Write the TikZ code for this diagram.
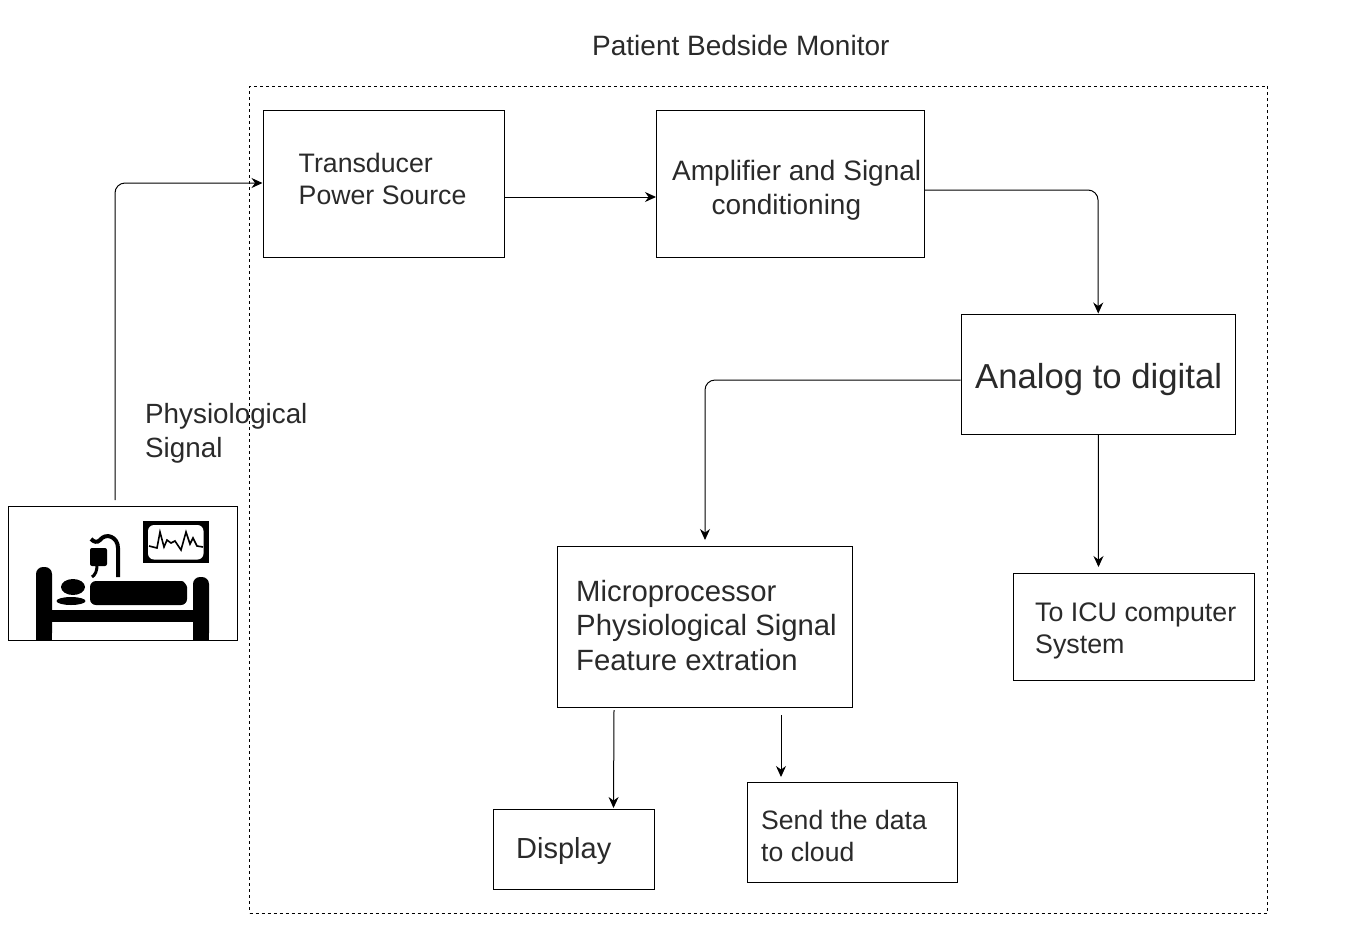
\documentclass[tikz,border=0pt]{standalone}
\usepackage{fontspec}
\setmainfont{Liberation Sans}
\usetikzlibrary{arrows.meta}
\definecolor{tx}{HTML}{2A2A2A}
\tikzset{x=1pt,y=-1pt,
 lab/.style={anchor=west,align=left,text=tx,inner sep=0pt},
 conn/.style={draw=black,line width=1pt,-{Stealth[length=11pt,width=10pt]},rounded corners=10pt}}
\newcommand{\rbox}[5]{\node[draw=black,line width=1pt,inner sep=0pt,anchor=north west,minimum width=#4*1pt-#2*1pt,minimum height=#5*1pt-#3*1pt] (#1) at (#2,#3) {};}
\begin{document}
\begin{tikzpicture}
\useasboundingbox (0,0) rectangle (1370,946);
\fill[white] (0,0) rectangle (1370,946);
\node[draw=black,dashed,line width=1pt,inner sep=0pt,anchor=north west,minimum width=1018pt,minimum height=827pt] (mon) at (249,85.5) {};
\rbox{ts}{262.5}{109.5}{503.8}{256.8}
\rbox{amp}{656}{109.5}{924}{256.8}
\rbox{adc}{960.5}{313.5}{1235}{433.5}
\rbox{mic}{557}{545.8}{852}{706.8}
\rbox{icu}{1012.5}{573}{1253.8}{680}
\rbox{dsp}{493}{808.5}{654}{888.5}
\rbox{cld}{746.5}{782}{957}{882}
\rbox{pat}{8}{505.8}{236.8}{639.8}
\node[lab,font=\fontsize{28}{33}\selectfont] (t0) at (592,45) {Patient Bedside Monitor};
\node[lab,font=\fontsize{26.7}{32}\selectfont] (t1) at (298.5,179) {Transducer\\Power Source};
\node[lab,font=\fontsize{28}{33.5}\selectfont] (t2) at (672,190.5) {Amplifier and Signal\\\hspace*{39.5pt}conditioning};
\node[lab,font=\fontsize{34.7}{40}\selectfont] (t3) at (975,380) {Analog to digital};
\node[lab,font=\fontsize{29.3}{34.7}\selectfont] (t4) at (576,625.3) {Microprocessor\\Physiological Signal\\Feature extration};
\node[lab,font=\fontsize{26.8}{32}\selectfont] (t5) at (1035,631) {To ICU computer\\System};
\node[lab,font=\fontsize{29}{33}\selectfont] (t6) at (516,851) {Display};
\node[lab,font=\fontsize{26.6}{32}\selectfont] (t7) at (761,835.5) {Send the data\\to cloud};
\node[lab,font=\fontsize{27.8}{33.5}\selectfont] (t8) at (145,433.5) {Physiological\\Signal};
\coordinate (p0) at (115,500);
\coordinate (p1) at (705,540);
\coordinate (p2) at (1098.5,567);
\coordinate (m1) at (614,710);
\coordinate (m2) at (613.5,808);
\coordinate (c1) at (781,715);
\coordinate (c2) at (781,777);
\draw[conn] (p0) -- (115,183) -- (ts.west |- 0,183);
\draw[conn] (ts.east |- 0,197) -- (amp.west |- 0,197);
\draw[conn] (amp.east |- 0,190) -- (1098,190) -- (adc.north);
\draw[conn] (adc.west |- 0,380) -- (705,380) -- (p1);
\draw[conn] (adc.south) -- (p2);
\draw[conn] (m1) -- (m2);
\draw[conn] (c1) -- (c2);
% bed icon
\fill[rounded corners=7pt] (36,640) -- (36,567) -- (52,567) -- (52,640) -- cycle;
\fill (36,630) rectangle (52,639.5);
\fill[rounded corners=7pt] (193,640) -- (193,577) -- (209,577) -- (209,640) -- cycle;
\fill (193,630) rectangle (209,639.5);
\fill (52,610) rectangle (193,622);
\fill[rounded corners=6pt] (90,605) -- (90,581) -- (176,581) .. controls (184,581) and (187,586) .. (187,593) -- (187,605) -- cycle;
\fill (73,587) ellipse (12 and 8);
\fill (71,601) ellipse (14.5 and 4);
\fill[rounded corners=2pt] (90,548) rectangle (107,566);
\draw[line width=3pt] (97,566) .. controls (97,571) and (95,575) .. (92,577);
\draw[line width=4pt] (118,577) -- (118,548) .. controls (118,537) and (106,532) .. (100,540) .. controls (97,543) and (94,542) .. (91,539);
\fill (143,521) rectangle (208.5,563);
\fill[white,rounded corners=6pt] (148,525) rectangle (203.5,559.5);
\draw[line width=1.6pt] (149,546) -- (157,548) -- (160,532) -- (164,547) -- (167,540) -- (171,543) -- (175,541) -- (181,550) -- (186,532) -- (190,544) -- (193,538) -- (197,546) -- (203,547);
\end{tikzpicture}
\end{document}
